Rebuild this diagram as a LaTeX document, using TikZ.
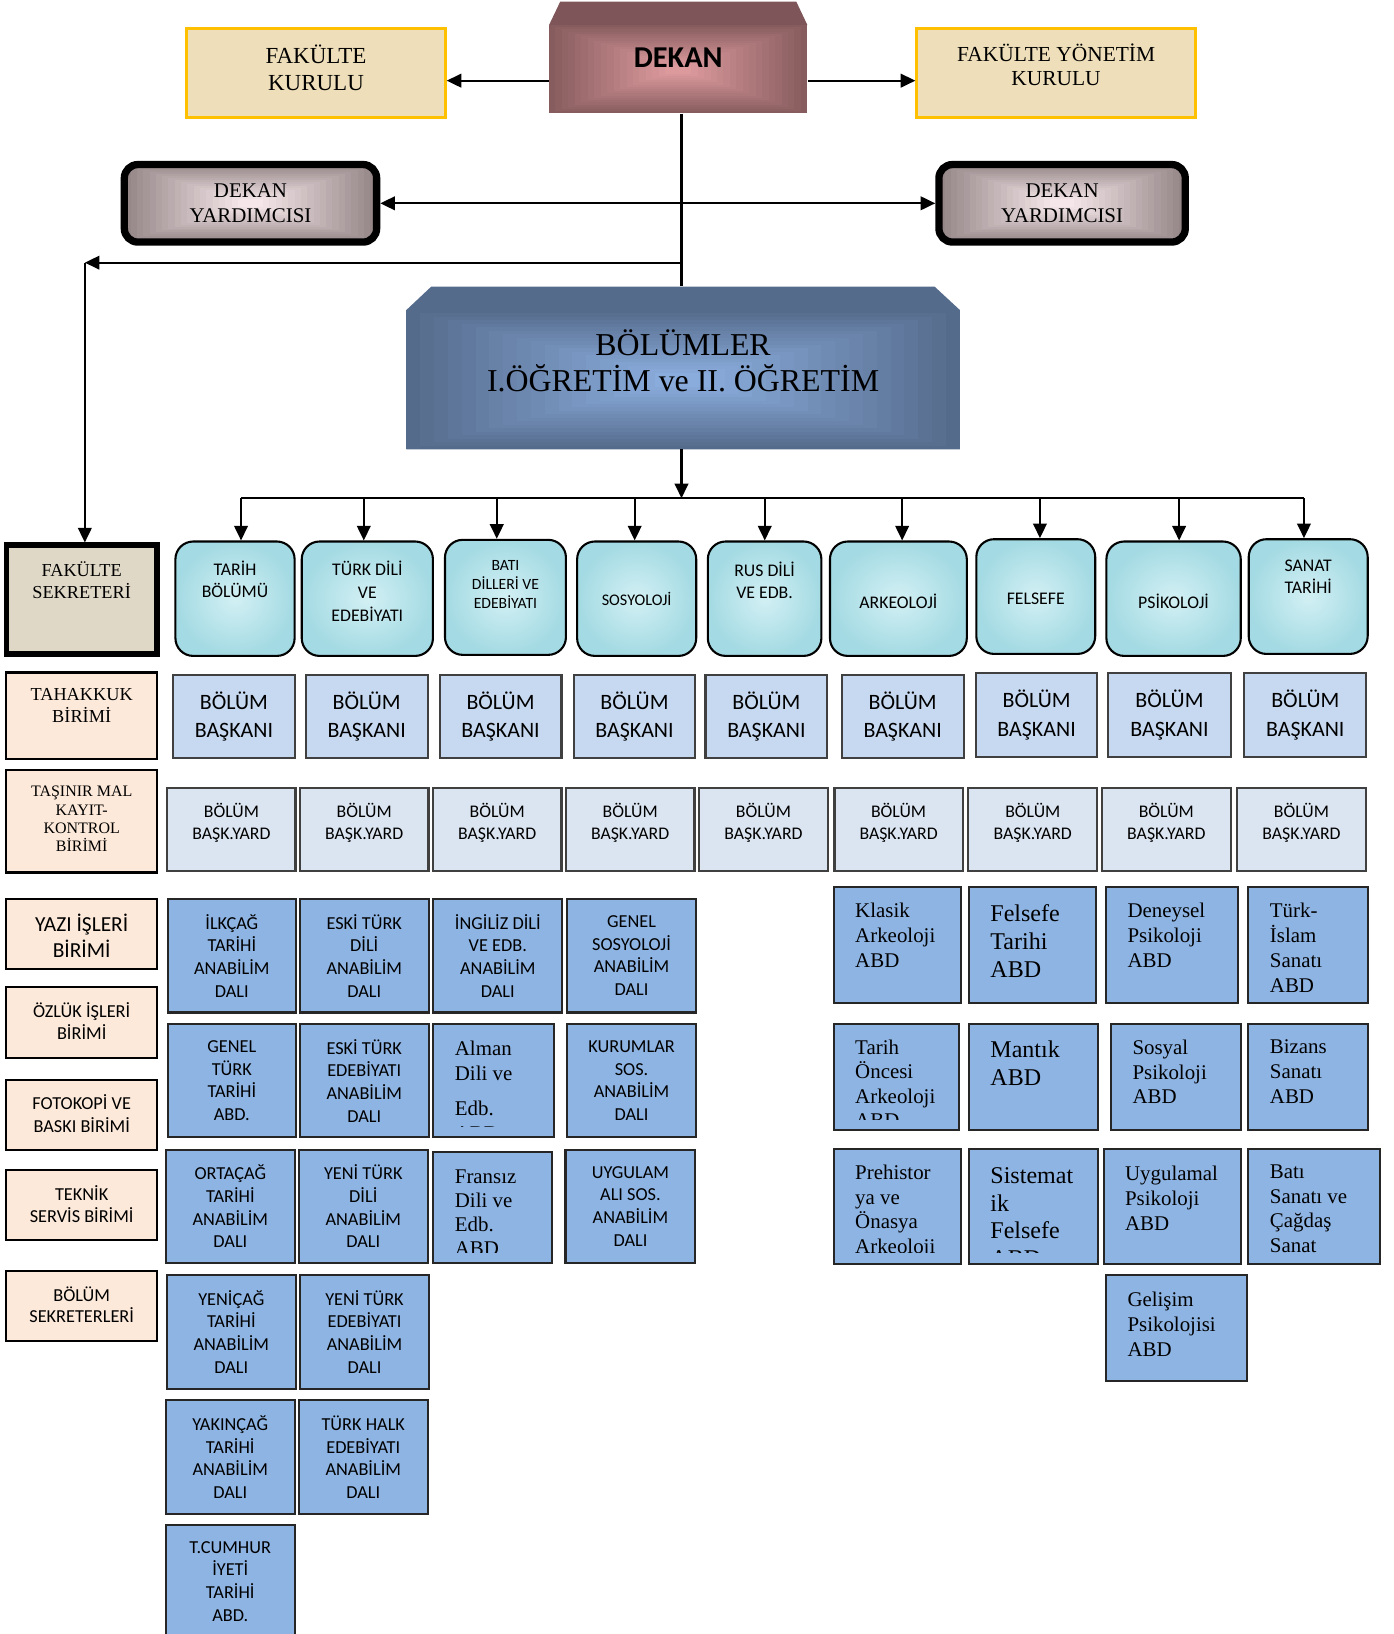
\documentclass[tikz,border=0pt]{standalone}
\usepackage{fontspec}
\setmainfont{Liberation Serif}
\newfontfamily\calfont{Carlito}
\usetikzlibrary{arrows.meta}

\newcommand\rmsz[2]{\rmfamily\fontsize{#1}{#2}\selectfont}
\newcommand\casz[2]{\calfont\fontsize{#1}{#2}\selectfont}

\definecolor{dekout}{HTML}{875C5E}
\definecolor{dekin}{HTML}{DC9A9D}
\definecolor{dektop}{HTML}{7E5558}
\definecolor{gold}{HTML}{FFC000}
\definecolor{parch}{HTML}{EEDFBA}
\definecolor{dyout}{HTML}{958688}
\definecolor{dyin}{HTML}{F5E7E9}
\definecolor{bolout}{HTML}{556B8C}
\definecolor{bolin}{HTML}{8AACDC}
\definecolor{aquain}{HTML}{D2F0F4}
\definecolor{aquaout}{HTML}{A4DAE3}
\definecolor{burlap}{HTML}{E0D8C7}
\definecolor{peach}{HTML}{FDE9D9}
\definecolor{baskc}{HTML}{C6D9F1}
\definecolor{yardc}{HTML}{DBE5F1}
\definecolor{abdc}{HTML}{8EB4E3}

% rectangular "from centre" gradient
\newcommand\Rgrad[6]{%
  \foreach \ii in {0,...,18}{%
    \pgfmathsetmacro\ff{\ii/18}%
    \pgfmathsetmacro\pcv{100*\ff}%
    \fill[#6!\pcv!#5] ({#1+\ff*0.45*(#3-#1)},{#2+\ff*0.45*(#4-#2)}) rectangle ({#3-\ff*0.45*(#3-#1)},{#4-\ff*0.45*(#4-#2)});
  }}
% box with centred text
\newcommand\Cbx[8]{\node[#1,align=center,minimum width={#5-#3},minimum height={#6-#4},font=#7] (#2) at ({(#3+#5)/2},{(#4+#6)/2}) {#8};}
% box with text centred at a given height
\newcommand\Tbx[9]{%
  \node[#1,minimum width={#5-#3},minimum height={#6-#4}] (#2) at ({(#3+#5)/2},{(#4+#6)/2}) {};%
  \node[font=#7,align=center,inner sep=0pt] (#2t) at ({(#3+#5)/2},{#8}) {#9};}
% left aligned, clipped serif text box
\newcommand\Lbx[8][\rmsz{20}{23.6}]{%
  \node[abd,minimum width={#5-#3},minimum height={#6-#4}] (#2) at ({(#3+#5)/2},{(#4+#6)/2}) {};%
  \begin{scope}
    \clip ({#3},{#4}) rectangle ({#5},{#6-10.5});
    \node[font=#1,align=left,anchor=north west,inner sep=0pt] (#2t) at ({#3+20.4},{#7}) {#8};
  \end{scope}}

\begin{document}
\begin{tikzpicture}[x=1pt,y=-1pt,
  ln/.style={line width=2pt},
  arr/.style={line width=2pt,-{Triangle[length=14pt,width=13pt]}},
  arrtwo/.style={line width=2pt,{Triangle[length=14pt,width=13pt]}-{Triangle[length=14pt,width=13pt]}},
  fkbox/.style={draw=gold,line width=2.5pt,fill=parch},
  dybox/.style={draw=black,line width=7pt,rounded corners=13pt,align=center},
  sekbox/.style={draw=black,line width=5.5pt,fill=burlap},
  deptbox/.style={draw=black,line width=2pt,rounded corners=17pt,inner color=aquain,outer color=aquaout},
  peachbox/.style={draw=black,line width=2pt,fill=peach},
  baskbox/.style={draw=black!75,line width=2pt,fill=baskc},
  yardbox/.style={draw=black!75,line width=2pt,fill=yardc},
  abd/.style={draw=black!85,line width=2pt,fill=abdc},
]
\useasboundingbox[fill=white] (0,0) rectangle (1334,1564);

% ---------- DEKAN ----------
\fill[dektop] (525.5,24) -- (536.2,1.6) -- (762.2,1.6) -- (772.8,24) -- cycle;
\Rgrad{525.5}{24}{772.8}{108.5}{dekout}{dekin}
\node[minimum width=247.3,minimum height=106.9,font={\casz{29}{30}\bfseries}] (dekan) at (649.15,55.05) {DEKAN};

% ---------- Kurullar ----------
\Tbx{fkbox}{fk}{178.6}{27.4}{426.3}{112.3}{\rmsz{22}{26.5}}{65}{FAKÜLTE\\KURULU}
\Tbx{fkbox}{fyk}{877.4}{27.4}{1144.3}{112.3}{\rmsz{20.5}{23}}{61.9}{FAKÜLTE YÖNETİM\\KURULU}

\coordinate (dl) at ([yshift=-22.15pt]dekan.west);
\coordinate (dr) at ([yshift=-22.15pt]dekan.east);
\draw[arr] (dl) -- (dl -| fk.east);
\draw[arr] (dr) -- (dr -| fyk.west);

% ---------- Dekan yardimcilari ----------
\begin{scope}
  \clip[rounded corners=13pt] (119,157.5) rectangle (360.5,231.7);
  \Rgrad{119}{157.5}{360.5}{231.7}{dyout}{dyin}
\end{scope}
\begin{scope}
  \clip[rounded corners=13pt] (898.7,157.5) rectangle (1134.5,231.7);
  \Rgrad{898.7}{157.5}{1134.5}{231.7}{dyout}{dyin}
\end{scope}
\node[dybox,minimum width=241.5,minimum height=74.2,font=\rmsz{20}{23.6}] (dy1) at (239.75,194.6) {DEKAN\\YARDIMCISI};
\node[dybox,minimum width=235.8,minimum height=74.2,font=\rmsz{20}{23.6}] (dy2) at (1016.6,194.6) {DEKAN\\YARDIMCISI};

% ---------- Bolumler ----------
\node[minimum width=529.7,minimum height=155.7] (bolumler) at (653.85,352.15) {};
\fill[bolout] (389,430) -- (389,296.7) -- (412.8,274.3) -- (894.5,274.3) -- (918.7,296.7) -- (918.7,430) -- cycle;
\Rgrad{389}{296.7}{918.7}{430}{bolout}{bolin}
\node[font=\rmsz{30.5}{35.1},align=center,inner sep=0pt] (bolt) at (653.85,345.5) {BÖLÜMLER\\I.ÖĞRETİM ve II. ÖĞRETİM};

% ---------- Fakulte sekreteri ----------
\Tbx{sekbox}{sek}{6.15}{522}{150.15}{625.7}{\rmsz{17.5}{20.8}}{555}{FAKÜLTE\\SEKRETERİ}

% ---------- main connectors ----------
\coordinate (vt) at ([xshift=3.15pt]dekan.south);
\draw[ln] (vt) -- (vt |- bolumler.north);
\draw[arrtwo] (dy1.east) -- (dy2.west);
\coordinate (jn) at (652.3,251.4);
\coordinate (corner) at (81.2,251.4);
\draw[arr] (jn) -- (corner);
\draw[arr] (corner) -- (corner |- sek.north);

% ---------- Bolum kutulari ----------
\Tbx{deptbox}{d1}{167.9}{518.3}{282}{627.8}{\casz{17}{21.4}}{554.6}{TARİH\\BÖLÜMÜ}
\Tbx{deptbox}{d2}{288.8}{518.3}{414.4}{627.8}{\casz{17}{21.9}}{565.6}{TÜRK DİLİ\\VE\\EDEBİYATI}
\Tbx{deptbox}{d3}{425.9}{516.7}{541.7}{626.8}{\casz{15}{18.2}}{559.8}{BATI\\DİLLERİ VE\\EDEBİYATI}
\Tbx{deptbox}{d4}{552.4}{518.3}{666.4}{627.8}{\casz{15.5}{18}}{573.5}{SOSYOLOJİ}
\Tbx{deptbox}{d5}{677.5}{518.3}{786.2}{627.8}{\casz{17}{21.1}}{555}{RUS DİLİ\\VE EDB.}
\Tbx{deptbox}{d6}{794.4}{518.3}{925.4}{627.8}{\casz{17}{20}}{575.1}{ARKEOLOJİ}
\Tbx{deptbox}{d7}{934.5}{516.1}{1048.3}{625.9}{\casz{17}{20}}{573.2}{FELSEFE}
\Tbx{deptbox}{d8}{1059}{518.3}{1187.6}{627.8}{\casz{17}{20}}{575.1}{PSİKOLOJİ}
\Tbx{deptbox}{d9}{1195.2}{516.1}{1309.1}{625.9}{\casz{17}{21.4}}{552.3}{SANAT\\TARİHİ}

\coordinate (bus) at (652.3,476.9);
\draw[arr] (bus |- bolumler.south) -- (bus);
\coordinate (b1) at (230.7,476.9);
\coordinate (b2) at (348.2,476.9);
\coordinate (b3) at (475.5,476.9);
\coordinate (b4) at (607.5,476.9);
\coordinate (b5) at (732,476.9);
\coordinate (b6) at (863.5,476.9);
\coordinate (b7) at (995.4,476.9);
\coordinate (b8) at (1128.6,476.9);
\coordinate (b9) at (1248.1,476.9);
\draw[ln] (b1) -- (b9);
\foreach \k in {1,...,9}{\draw[arr] (b\k) -- (b\k |- d\k.north);}

% ---------- Sol sutun birimler ----------
\Tbx{peachbox}{tah}{6}{643.7}{150.4}{726.6}{\rmsz{17.5}{20.8}}{675.4}{TAHAKKUK\\BİRİMİ}
\Tbx{peachbox}{tas}{6}{736.8}{150.4}{835.1}{\rmsz{15.3}{17.5}}{784}{TAŞINIR MAL\\KAYIT-\\KONTROL\\BİRİMİ}
\Tbx{peachbox}{yaz}{6.1}{860.3}{150.3}{927.6}{\casz{20.5}{24.8}}{896}{YAZI İŞLERİ\\BİRİMİ}
\Tbx{peachbox}{ozl}{6.1}{944.8}{150.3}{1012.8}{\casz{17.5}{21.7}}{977.3}{ÖZLÜK İŞLERİ\\BİRİMİ}
\Tbx{peachbox}{fot}{6.1}{1033.5}{150.3}{1100.5}{\casz{17.5}{21.7}}{1065.7}{FOTOKOPİ VE\\BASKI BİRİMİ}
\Tbx{peachbox}{tek}{6.1}{1120.2}{150.3}{1187.2}{\casz{17.5}{21.4}}{1152.6}{TEKNİK\\SERVİS BİRİMİ}
\Tbx{peachbox}{bsk}{6.1}{1216.3}{150.3}{1283.9}{\casz{17.5}{21}}{1248.8}{BÖLÜM\\SEKRETERLERİ}

% ---------- Bolum baskanlari ----------
\Cbx{baskbox}{k1}{165.8}{646}{282}{725.7}{\casz{21}{27}}{BÖLÜM\\BAŞKANI}
\Cbx{baskbox}{k2}{292.6}{646}{409.3}{725.7}{\casz{21}{27}}{BÖLÜM\\BAŞKANI}
\Cbx{baskbox}{k3}{420.8}{646}{537.4}{725.7}{\casz{21}{27}}{BÖLÜM\\BAŞKANI}
\Cbx{baskbox}{k4}{549}{646}{665.6}{725.7}{\casz{21}{27}}{BÖLÜM\\BAŞKANI}
\Cbx{baskbox}{k5}{675.3}{646}{791.8}{725.7}{\casz{21}{27}}{BÖLÜM\\BAŞKANI}
\Cbx{baskbox}{k6}{805.6}{646}{922.4}{725.7}{\casz{21}{27}}{BÖLÜM\\BAŞKANI}
\Cbx{baskbox}{k7}{934}{644.3}{1050.4}{724.7}{\casz{21}{27}}{BÖLÜM\\BAŞKANI}
\Cbx{baskbox}{k8}{1060.8}{644.3}{1178}{724.7}{\casz{21}{27}}{BÖLÜM\\BAŞKANI}
\Cbx{baskbox}{k9}{1191}{644.3}{1307.8}{724.7}{\casz{21}{27}}{BÖLÜM\\BAŞKANI}

% ---------- Bolum baskan yardimcilari ----------
\Tbx{yardbox}{y1}{160.2}{754.4}{282.8}{834.1}{\casz{17}{21.7}}{787.6}{BÖLÜM\\BAŞK.YARD}
\Tbx{yardbox}{y2}{287.1}{754.4}{410.1}{834.1}{\casz{17}{21.7}}{787.6}{BÖLÜM\\BAŞK.YARD}
\Tbx{yardbox}{y3}{414.4}{754.4}{537.4}{834.1}{\casz{17}{21.7}}{787.6}{BÖLÜM\\BAŞK.YARD}
\Tbx{yardbox}{y4}{541.6}{754.4}{664.7}{834.1}{\casz{17}{21.7}}{787.6}{BÖLÜM\\BAŞK.YARD}
\Tbx{yardbox}{y5}{668.9}{754.4}{792.6}{834.1}{\casz{17}{21.7}}{787.6}{BÖLÜM\\BAŞK.YARD}
\Tbx{yardbox}{y6}{798.7}{754.4}{921.5}{834.1}{\casz{17}{21.7}}{787.6}{BÖLÜM\\BAŞK.YARD}
\Tbx{yardbox}{y7}{926.7}{754.4}{1050.4}{834.1}{\casz{17}{21.7}}{787.6}{BÖLÜM\\BAŞK.YARD}
\Tbx{yardbox}{y8}{1054.7}{754.4}{1178}{834.1}{\casz{17}{21.7}}{787.6}{BÖLÜM\\BAŞK.YARD}
\Tbx{yardbox}{y9}{1183.7}{754.4}{1307.8}{834.1}{\casz{17}{21.7}}{787.6}{BÖLÜM\\BAŞK.YARD}

% ---------- Anabilim dallari (sol) ----------
\Cbx{abd}{a11}{160.4}{860.3}{283.4}{969.1}{\casz{17.5}{21.7}}{İLKÇAĞ\\TARİHİ\\ANABİLİM\\DALI}
\Cbx{abd}{a12}{286.9}{860.3}{410.4}{969.1}{\casz{17.5}{21.7}}{ESKİ TÜRK\\DİLİ\\ANABİLİM\\DALI}
\Cbx{abd}{a13}{414.8}{860.3}{538.2}{969.1}{\casz{17.5}{21.7}}{İNGİLİZ DİLİ\\VE EDB.\\ANABİLİM\\DALI}
\Cbx{abd}{a14}{543}{860.3}{666}{969.1}{\casz{17.5}{21.7}}{GENEL\\SOSYOLOJİ\\ANABİLİM\\DALI}

\Cbx{abd}{a21}{160.4}{980.2}{283.4}{1088.7}{\casz{17.5}{21.7}}{GENEL\\TÜRK\\TARİHİ\\ABD.}
\Cbx{abd}{a22}{286.9}{980.2}{410.4}{1088.7}{\casz{17.5}{21.7}}{ESKİ TÜRK\\EDEBİYATI\\ANABİLİM\\DALI}
\Lbx{a23}{414.8}{980.2}{529.9}{1088.7}{996.6}{Alman\\Dili ve\\[10pt]Edb.\\ABD}
\Cbx{abd}{a24}{543}{980.2}{666}{1088.7}{\casz{17.5}{21.7}}{KURUMLAR\\SOS.\\ANABİLİM\\DALI}

\Cbx{abd}{a31}{159}{1100.5}{282}{1208.9}{\casz{17.5}{21.7}}{ORTAÇAĞ\\TARİHİ\\ANABİLİM\\DALI}
\Cbx{abd}{a32}{286}{1100.5}{409.5}{1208.9}{\casz{17.5}{21.7}}{YENİ TÜRK\\DİLİ\\ANABİLİM\\DALI}
\Lbx[\rmsz{20}{23}]{a33}{414.8}{1103}{528}{1208.9}{1119.4}{Fransız\\Dili ve\\Edb.\\ABD}
\Cbx{abd}{a34}{541.3}{1100.5}{665.6}{1208.9}{\casz{17.5}{21.7}}{UYGULAM\\ALI SOS.\\ANABİLİM\\DALI}

\Cbx{abd}{a41}{159.5}{1220.1}{283.3}{1329.5}{\casz{17.5}{21.7}}{YENİÇAĞ\\TARİHİ\\ANABİLİM\\DALI}
\Cbx{abd}{a42}{287}{1220.1}{410.8}{1329.5}{\casz{17.5}{21.7}}{YENİ TÜRK\\EDEBİYATI\\ANABİLİM\\DALI}

\Cbx{abd}{a51}{158.5}{1340.4}{282.3}{1449.1}{\casz{17.5}{21.7}}{YAKINÇAĞ\\TARİHİ\\ANABİLİM\\DALI}
\Cbx{abd}{a52}{285.8}{1340.4}{409.6}{1449.1}{\casz{17.5}{21.7}}{TÜRK HALK\\EDEBİYATI\\ANABİLİM\\DALI}

\Cbx{abd}{a61}{158.5}{1459.3}{282.3}{1568}{\casz{17.5}{21.7}}{T.CUMHUR\\İYETİ\\TARİHİ\\ABD.}

% ---------- Anabilim dallari (sag) ----------
\Lbx{r11}{798}{849}{920}{960}{864.4}{Klasik\\Arkeoloji\\ABD}
\Lbx[\rmsz{23}{26.4}]{r12}{927.4}{849}{1049.2}{960}{866}{Felsefe\\Tarihi\\ABD}
\Lbx{r13}{1058.6}{849}{1184.8}{960}{864.4}{Deneysel\\Psikoloji\\ABD}
\Lbx[\rmsz{20}{23.7}]{r14}{1194.9}{849}{1309.2}{960}{864.4}{Türk-\\İslam\\Sanatı\\ABD}

\Lbx[\rmsz{20}{23.4}]{r21}{798}{979.9}{917.7}{1082}{995.2}{Tarih\\Öncesi\\Arkeoloji\\ABD}
\Lbx[\rmsz{23}{27.1}]{r22}{927.4}{979.9}{1051}{1082}{995.9}{Mantık\\ABD}
\Lbx{r23}{1063.4}{979.9}{1187.8}{1082}{995.2}{Sosyal\\Psikoloji\\ABD}
\Lbx{r24}{1194.9}{979.9}{1309.2}{1082}{995.2}{Bizans\\Sanatı\\ABD}

\Lbx{r31}{798}{1099.8}{919.4}{1209.6}{1114.8}{Prehistor\\ya ve\\Önasya\\Arkeoloji}
\Lbx[\rmsz{23}{26.5}]{r32}{927.4}{1099.8}{1050.7}{1209.6}{1117.4}{Sistemat\\ik\\Felsefe\\ABD}
\Lbx[\rmsz{20}{24}]{r33}{1056.3}{1099.8}{1187.8}{1209.6}{1115.6}{Uygulamal\\Psikoloji\\ABD}
\Lbx{r34}{1194.9}{1099.8}{1320.5}{1209.6}{1114.8}{Batı\\Sanatı ve\\Çağdaş\\Sanat}

\Lbx[\rmsz{20}{24}]{r43}{1058.6}{1220}{1193.5}{1322}{1236.1}{Gelişim\\Psikolojisi\\ABD}

\end{tikzpicture}
\end{document}
